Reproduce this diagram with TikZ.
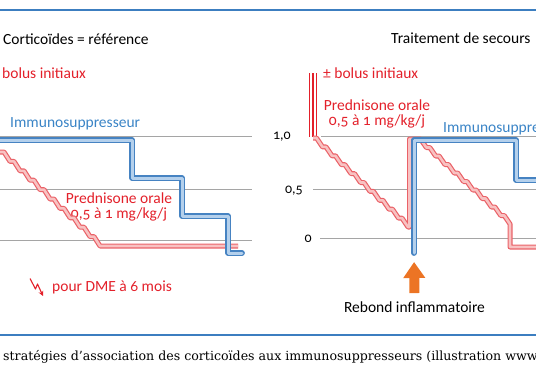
\documentclass[tikz,border=0pt]{standalone}
\usepackage{fontspec}
\setmainfont{Carlito}[Numbers=OldStyle]
\newfontfamily\capfont{DejaVu Serif}
\usepackage{tikz}
\usetikzlibrary{arrows.meta}

\definecolor{txtred}{HTML}{E3202A}
\definecolor{txtblue}{HTML}{3A84C6}
\definecolor{ruleblue}{HTML}{3C7EC0}
\definecolor{linegray}{HTML}{A5A5A5}
\definecolor{bluedark}{HTML}{4683C2}
\definecolor{bluelight}{HTML}{B4D0EC}
\definecolor{reddark}{HTML}{EA6268}
\definecolor{redlight}{HTML}{F8C2C2}
\definecolor{arroworange}{HTML}{EC7424}

\tikzset{
  lbl/.style={inner sep=0pt,anchor=base west,font=\fontsize{15.5}{15.5}\selectfont},
  axlbl/.style={inner sep=0pt,anchor=base east,font=\fontsize{14}{14}\selectfont},
  twolines/.style={inner sep=0pt,align=center,font=\fontsize{15.5}{15.5}\selectfont,text=txtred},
  gridline/.style={linegray,line width=1pt},
  sepline/.style={ruleblue,line width=2pt},
  immuno/.style={draw=bluedark,double=bluelight,double distance=3pt,line width=1.4pt,line join=round,line cap=round},
  cortico/.style={draw=reddark,double=redlight,double distance=2.6pt,line width=1.2pt,line join=round},
  bolus/.style={txtred,line width=1.2pt}
}

\begin{document}
\begin{tikzpicture}[x=1pt,y=-1pt]
  \useasboundingbox (0,0) rectangle (536,386);
  \clip (0,0) rectangle (536,386);

  \draw[sepline] (0,9.5) -- (536,9.5);
  \draw[sepline] (0,335) -- (536,335);

  \node[lbl] (t1) at (3,44) {Corticoïdes = référence};
  \node[lbl] (t2) at (391,43) {Traitement de secours};

  \node[lbl,text=txtred] (bolusL) at (2,78) {bolus initiaux};
  \node[lbl,text=txtblue] (immunoL) at (10,127) {Immunosuppresseur};
  \node[twolines] (predL) at (119,207) {Prednisone orale\\0,5 à 1 mg/kg/j};
  \node[lbl,text=txtred] (dme) at (52,291) {pour DME à 6 mois};
  \draw[txtred,line width=1.1pt,line join=round,-{Stealth[length=5pt,width=5pt]}] (30,278.5) -- (35.5,289) -- (37.5,284) -- (43,296);

  \draw[gridline] (0,136) -- (252,136);
  \draw[gridline] (0,189.5) -- (252,189.5);
  \draw[gridline] (0,240) -- (252,240);

  \draw[cortico] (0,152) \foreach \i in {1,...,10} { -- ++(4,0) -- ++(6,9.4) } -- (238,246);
  \draw[immuno] (-5,140) -- (132,140) -- (132,178) -- (182,178) -- (182,216) -- (228,216) -- (228,253) -- (242,253);

  \node[axlbl] (y10) at (291,139) {1,0};
  \node[axlbl] (y05) at (303,193) {0,5};
  \node[axlbl] (y00) at (312,242) {0};
  \draw[gridline] (321,136) -- (536,136);
  \draw[gridline] (313,189.5) -- (536,189.5);
  \draw[gridline] (320,238.5) -- (536,238.5);

  \foreach \x in {309.5,313,316.5}
    \draw[bolus] (\x,73) -- (\x,137);
  \node[lbl,text=txtred] (bolusR) at (323,78) {± bolus initiaux};
  \node[twolines] (predR) at (377,114) {Prednisone orale\\0,5 à 1 mg/kg/j};
  \node[lbl,text=txtblue] (immunoR) at (443,132) {Immunosuppresseur};

  \draw[cortico] (313,138) \foreach \i in {1,...,10} { -- ++(3.5,0) -- ++(6,8.9) } -- ++(1.5,0) -- (409.5,139) -- (417,139)
    \foreach \i in {1,...,10} { -- ++(3.5,0) -- ++(5.8,8.5) } -- ++(0,23) -- ++(40,0);
  \coordinate (blueend) at (414,253);
  \draw[immuno] (blueend) -- (414,140) -- (516,140) -- (516,180) -- (545,180);

  \node[lbl,anchor=base] (rebond) at (414.5,312) {Rebond inflammatoire};
  \draw[arroworange,line width=10pt,shorten <=8pt,shorten >=9pt,-{Triangle[length=16pt,width=21pt]}] (rebond.north) -- (blueend);

  \node[inner sep=0pt,anchor=base west,font=\capfont\fontsize{12.6}{12.6}\selectfont] (caption) at (3,360) {stratégies d’association des corticoïdes aux immunosuppresseurs (illustration www};
\end{tikzpicture}
\end{document}
